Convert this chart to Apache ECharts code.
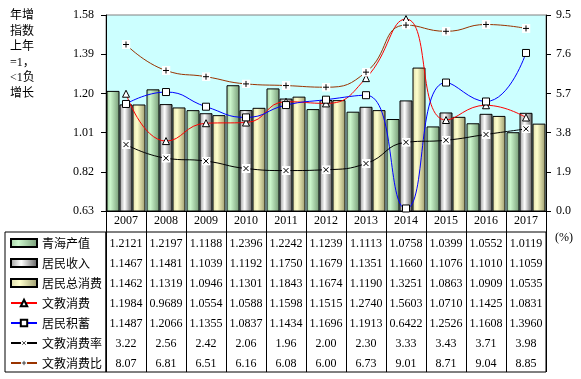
<!DOCTYPE html>
<html>
<head>
<meta charset="utf-8">
<script src="https://cdn.jsdelivr.net/npm/echarts@6/dist/echarts.min.js"></script>
<style>html,body{margin:0;padding:0;background:#fff;}#c{width:581px;height:379px;}</style>
</head>
<body>
<div id="c"></div>
<script>
// ---- data ----
var years = ['2007','2008','2009','2010','2011','2012','2013','2014','2015','2016','2017'];
var qhGDP     = [1.2121,1.2197,1.1188,1.2396,1.2242,1.1239,1.1113,1.0758,1.0399,1.0552,1.0119];
var income    = [1.1467,1.1481,1.1039,1.1192,1.1750,1.1679,1.1351,1.1660,1.1076,1.1010,1.1059];
var totalCons = [1.1462,1.1319,1.0946,1.1301,1.1843,1.1674,1.1190,1.3251,1.0863,1.0909,1.0535];
var eduCons   = [1.1984,0.9689,1.0554,1.0588,1.1598,1.1515,1.2740,1.5603,1.0710,1.1425,1.0831];
var savings   = [1.1487,1.2066,1.1355,1.0837,1.1434,1.1696,1.1913,0.6422,1.2526,1.1608,1.3960];
var eduRate   = [3.22,2.56,2.42,2.06,1.96,2.00,2.30,3.33,3.43,3.71,3.98];
var eduRatio  = [8.07,6.81,6.51,6.16,6.08,6.00,6.73,9.01,8.71,9.04,8.85];
var leftTicks = [0.63,0.82,1.01,1.20,1.39,1.58];
var seriesNames = ['青海产值','居民收入','居民总消费','文教消费','居民积蓄','文教消费率','文教消费比'];

var SERIF = 'Liberation Serif, Noto Sans CJK SC, serif';
var CJK = 'Noto Sans CJK SC, sans-serif';

function svgSym(path){
  var s = "<svg xmlns='http://www.w3.org/2000/svg' width='9' height='9'><rect width='9' height='9' fill='white'/><path d='" + path + "' stroke='black' stroke-width='1' fill='none'/></svg>";
  return 'image://data:image/svg+xml;charset=utf-8,' + encodeURIComponent(s);
}
var xSym = svgSym('M2 2L7 7M7 2L2 7');
var plusSym = svgSym('M4.5 1.5V7.5M1.5 4.5H7.5');

function grad(stops){
  return new echarts.graphic.LinearGradient(0,0,1,0, stops.map(function(s){return {offset:s[0], color:s[1]};}));
}
var gGreen = grad([[0,'#a4d0a4'],[0.3,'#ccf6cc'],[1,'#759a75']]);
var gGray = grad([[0,'#9a9a9a'],[0.4,'#ffffff'],[1,'#5a5a5a']]);
var gYellow = grad([[0,'#dcdcac'],[0.35,'#ffffcc'],[1,'#9a9a6c']]);

var rows = [
  {d:qhGDP, f:4},{d:income, f:4},{d:totalCons, f:4},{d:eduCons, f:4},{d:savings, f:4},{d:eduRate, f:2},{d:eduRatio, f:2}
];

var chart = echarts.init(document.getElementById('c'), null, {renderer:'canvas'});
var barBase = {type:'bar', xAxisIndex:0, yAxisIndex:0, barWidth:13, barGap:'0%'};

chart.setOption({
  animation:false,
  backgroundColor:'#fff',
  title:{
    text:'年增\n指数\n上年\n=1，\n<1负\n增长',
    left:10, top:8, padding:0,
    textStyle:{fontSize:12, fontWeight:'normal', color:'#000', lineHeight:15.6, fontFamily:SERIF}
  },
  legend:{
    orient:'vertical', left:10, top:237, padding:0, itemWidth:26, itemHeight:8, itemGap:8,
    data:seriesNames.map(function(n, i){ return i < 3 ? {name:n, icon:'rect'} : {name:n}; }),
    textStyle:{fontSize:12, color:'#000', fontFamily:CJK, lineHeight:12}
  },
  grid:[
    {left:106, top:15, width:440, height:196, show:true, backgroundColor:'#ccffff', borderColor:'#808080', borderWidth:1, containLabel:false},
    {left:106, top:232, width:440, height:140, show:true, backgroundColor:'transparent', borderColor:'#000', borderWidth:1, containLabel:false}
  ],
  xAxis:[
    {type:'category', gridIndex:0, data:years, position:'bottom',
      axisLine:{lineStyle:{color:'#000', width:1}},
      axisTick:{show:true, interval:0, length:21, lineStyle:{color:'#000'}},
      axisLabel:{interval:0, margin:4, fontSize:12, color:'#000', fontFamily:SERIF},
      splitLine:{show:false}},
    {type:'category', gridIndex:1, data:years, position:'top',
      axisLine:{show:false}, axisTick:{show:false},
      splitLine:{show:true, interval:0, lineStyle:{color:'#000', width:1}},
      axisLabel:{inside:true, interval:0, margin:2, fontSize:12, lineHeight:20, color:'#000', fontFamily:SERIF,
        formatter:function(v, i){
          return rows.map(function(r){return r.d[i].toFixed(r.f);}).join('\n');
        }}}
  ],
  yAxis:[
    {type:'value', gridIndex:0, min:0.63, max:1.58, position:'left',
      axisLine:{show:true, lineStyle:{color:'#000'}},
      axisTick:{show:true, length:5, customValues:leftTicks, lineStyle:{color:'#000'}},
      axisLabel:{margin:12, fontSize:12, color:'#000', fontFamily:SERIF, customValues:leftTicks,
        formatter:function(v){return Number(v).toFixed(2);}},
      splitLine:{show:false}},
    {type:'value', gridIndex:0, min:0, max:9.5, interval:1.9, position:'right',
      axisLine:{show:true, lineStyle:{color:'#000'}},
      axisTick:{show:true, length:5, lineStyle:{color:'#000'}},
      axisLabel:{margin:10, fontSize:12, color:'#000', fontFamily:SERIF,
        formatter:function(v){return Number(v).toFixed(1);}},
      splitLine:{show:false}},
    {type:'value', gridIndex:1, min:0, max:1, show:false}
  ],
  graphic:[
    {type:'rect', shape:{x:5, y:232, width:101, height:140}, style:{fill:'none', stroke:'#000', lineWidth:1}, silent:true},
    {type:'text', left:555, top:232, style:{text:'(%)', fontSize:12, fill:'#000', fontFamily:SERIF}}
  ],
  series:[
    Object.assign({}, barBase, {name:seriesNames[0], data:qhGDP, itemStyle:{color:gGreen, borderColor:'#000', borderWidth:1}}),
    Object.assign({}, barBase, {name:seriesNames[1], data:income, itemStyle:{color:gGray, borderColor:'#000', borderWidth:1}}),
    Object.assign({}, barBase, {name:seriesNames[2], data:totalCons, itemStyle:{color:gYellow, borderColor:'#000', borderWidth:1}}),
    {name:seriesNames[3], type:'line', xAxisIndex:0, yAxisIndex:0, data:eduCons, smooth:0.5, z:5,
      symbol:'triangle', symbolSize:7, showAllSymbol:true,
      lineStyle:{color:'#ff0000', width:1}, itemStyle:{color:'#fff', borderColor:'#000', borderWidth:1}},
    {name:seriesNames[4], type:'line', xAxisIndex:0, yAxisIndex:0, data:savings, smooth:0.5, z:5,
      symbol:'rect', symbolSize:7, showAllSymbol:true,
      lineStyle:{color:'#0000ff', width:1}, itemStyle:{color:'#fff', borderColor:'#000', borderWidth:1}},
    {name:seriesNames[5], type:'line', xAxisIndex:0, yAxisIndex:1, data:eduRate, smooth:0.5, z:5,
      symbol:xSym, symbolSize:9, showAllSymbol:true,
      lineStyle:{color:'#000', width:1}, itemStyle:{color:'#000'}},
    {name:seriesNames[6], type:'line', xAxisIndex:0, yAxisIndex:1, data:eduRatio, smooth:0.5, z:5,
      symbol:plusSym, symbolSize:9, showAllSymbol:true,
      lineStyle:{color:'#993300', width:1}, itemStyle:{color:'#993300'}}
  ]
});
</script>
</body>
</html>
